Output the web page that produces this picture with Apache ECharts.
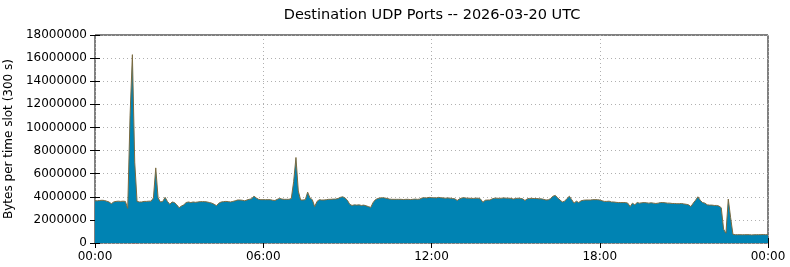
<!DOCTYPE html>
<html><head><meta charset="utf-8">
<script src="https://cdn.jsdelivr.net/npm/echarts@6/dist/echarts.min.js"></script>
<style>html,body{margin:0;padding:0;background:#fff}#c{width:790px;height:267px}</style>
</head><body><div id="c"></div>
<script>
// time slots every 5 minutes (300 s), minutes since 00:00
const slotMinutes = 5;
const xTickLabels = ['00:00','06:00','12:00','18:00','00:00'];
const yTicks = [0,2000000,4000000,6000000,8000000,10000000,12000000,14000000,16000000,18000000];
// main layer, millions of bytes per slot
const mainMB = [
3.65,3.65,3.68,3.7,3.68,3.62,3.55,3.4,3.55,3.6,3.62,3.6,
3.62,3.6,3.0,11.0,16.3,7.0,3.6,3.55,3.55,3.6,3.6,3.62,
3.62,3.9,6.5,3.9,3.55,3.6,3.95,3.6,3.35,3.55,3.5,3.3,
3.05,3.2,3.3,3.5,3.55,3.5,3.55,3.52,3.55,3.58,3.58,3.58,
3.55,3.5,3.45,3.35,3.23,3.45,3.55,3.58,3.6,3.58,3.55,3.6,
3.65,3.72,3.72,3.7,3.65,3.72,3.78,3.82,4.05,3.9,3.78,3.75,
3.75,3.75,3.75,3.75,3.7,3.68,3.78,3.86,3.8,3.78,3.78,3.78,
3.85,5.3,7.4,4.5,3.72,3.72,3.75,4.4,3.9,3.75,3.15,3.6,
3.75,3.72,3.72,3.75,3.78,3.78,3.8,3.8,3.85,3.95,4.0,3.9,
3.7,3.35,3.25,3.3,3.28,3.3,3.25,3.28,3.22,3.15,3.08,3.5,
3.75,3.85,3.9,3.92,3.9,3.85,3.8,3.78,3.78,3.78,3.78,3.78,
3.76,3.78,3.78,3.76,3.78,3.8,3.78,3.8,3.9,3.92,3.9,3.95,
3.92,3.92,3.9,3.95,3.92,3.9,3.88,3.9,3.88,3.85,3.82,3.68,
3.82,3.9,3.92,3.88,3.88,3.86,3.86,3.88,3.88,3.8,3.52,3.7,
3.72,3.72,3.82,3.88,3.88,3.86,3.88,3.9,3.88,3.88,3.86,3.8,
3.85,3.88,3.86,3.82,3.68,3.82,3.86,3.86,3.85,3.85,3.82,3.82,
3.78,3.72,3.74,3.85,4.05,4.12,3.9,3.72,3.55,3.62,3.85,4.05,
3.75,3.45,3.62,3.5,3.65,3.7,3.72,3.72,3.72,3.75,3.75,3.75,
3.72,3.65,3.6,3.6,3.62,3.55,3.55,3.52,3.5,3.5,3.5,3.5,
3.45,3.15,3.45,3.3,3.5,3.45,3.48,3.5,3.48,3.45,3.48,3.45,
3.42,3.45,3.5,3.5,3.48,3.45,3.45,3.42,3.42,3.4,3.4,3.42,
3.38,3.35,3.3,3.15,3.45,3.7,4.0,3.7,3.5,3.45,3.3,3.28,
3.28,3.25,3.25,3.2,3.05,1.2,0.85,3.8,2.2,0.75,0.72,0.72,
0.72,0.71,0.72,0.72,0.72,0.7,0.71,0.72,0.72,0.72,0.73,0.72,
0.72
];
// small second layer visible only at the start of the day
const secondMB = [0.12,0.15,0.15,0.15,0.12,0.1,0.08,0.05,0.02,0.0];

const toPts = arr => arr.map((v,i)=>[i*slotMinutes, v*1e6]);
const font = 'DejaVu Sans';
const chart = echarts.init(document.getElementById('c'), null, {renderer:'canvas'});
const gridLine = {show:true, lineStyle:{color:'#b0b0b0', type:[1,3], width:1}};
chart.setOption({
  animation:false,
  title:{text:'Destination UDP Ports -- 2026-03-20 UTC', left:427, top:3, textAlign:'center',
    textStyle:{fontFamily:font, fontSize:14.5, fontWeight:'normal', color:'#000'}},
  grid:{left:95, right:22, top:35, bottom:24, containLabel:false, outerBoundsMode:'none',
    show:true, borderColor:'#000', borderWidth:1, backgroundColor:'transparent'},
  xAxis:[{type:'value', min:0, max:1440, interval:360,
    axisLine:{show:false}, axisTick:{show:true, inside:true, length:5, lineStyle:{color:'#000'}},
    axisLabel:{fontFamily:font, fontSize:12, color:'#000', margin:8,
      formatter:(v)=>xTickLabels[Math.round(v/360)]},
    splitLine:gridLine},
   {type:'value', position:'top', min:0, max:1440, interval:360,
    axisLine:{show:false}, axisTick:{show:true, inside:true, length:5, lineStyle:{color:'#000'}},
    axisLabel:{show:false}, splitLine:{show:false}}],
  yAxis:[{type:'value', min:yTicks[0], max:yTicks[yTicks.length-1], interval:yTicks[1]-yTicks[0],
    name:'Bytes per time slot (300 s)', nameLocation:'middle', nameGap:76,
    nameTextStyle:{fontFamily:font, fontSize:12, color:'#000'},
    axisLine:{show:false}, axisTick:{show:true, inside:true, length:5, lineStyle:{color:'#000'}},
    axisLabel:{fontFamily:font, fontSize:12, color:'#000', margin:8, formatter:(v)=>String(v)},
    splitLine:gridLine},
   {type:'value', position:'right', min:yTicks[0], max:yTicks[yTicks.length-1], interval:yTicks[1]-yTicks[0],
    axisLine:{show:false}, axisTick:{show:true, inside:true, length:5, lineStyle:{color:'#000'}},
    axisLabel:{show:false}, splitLine:{show:false}}],
  series:[
    {type:'line', name:'main', stack:'all', data:toPts(mainMB), symbol:'none',
     lineStyle:{color:'#7a6a40', width:1}, areaStyle:{color:'#0083b3', opacity:1}, z:3},
    {type:'line', name:'second', stack:'all', data:toPts(secondMB), symbol:'none',
     lineStyle:{color:'#c0402a', width:1}, areaStyle:{color:'#c0402a', opacity:1}, z:2}
  ]
});
</script></body></html>
